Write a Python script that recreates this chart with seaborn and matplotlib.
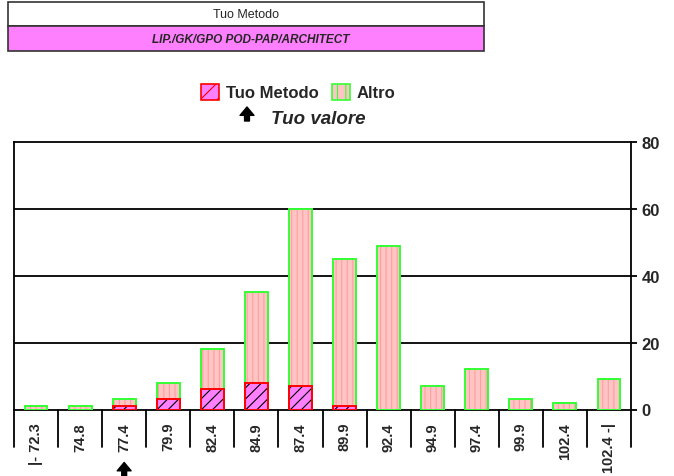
import matplotlib
matplotlib.use("Agg")
import matplotlib.pyplot as plt
import matplotlib.patches as mpatches
import matplotlib.transforms as mtransforms
import seaborn as sns
import pandas as pd
import numpy as np

categories = ["|- 72.3", "74.8", "77.4", "79.9", "82.4", "84.9", "87.4",
              "89.9", "92.4", "94.9", "97.4", "99.9", "102.4", "102.4 -|"]
tuo_metodo = [0, 0, 1, 3, 6, 8, 7, 1, 0, 0, 0, 0, 0, 0]
altro = [1, 1, 2, 5, 12, 27, 53, 44, 49, 7, 12, 3, 2, 9]
y_ticks = [0, 20, 40, 60, 80]
title_top = "Tuo Metodo"
title_bottom = "LIP./GK/GPO POD-PAP/ARCHITECT"
legend_labels = ["Tuo Metodo", "Altro"]
marker_text = "Tuo valore"
your_value_index = 2

sns.set_theme(style="white")
plt.rcParams['font.family'] = ['Liberation Sans', 'DejaVu Sans']

df = pd.DataFrame({"cat": categories, "tuo": tuo_metodo, "altro": altro})
df["total"] = df["tuo"] + df["altro"]

fig = plt.figure(figsize=(6.74, 4.77), dpi=100)
W, H = 674, 477
ax = fig.add_axes([14 / W, 1 - 410.5 / H, (631 - 14) / W, (410.5 - 143) / H])

TUO_FILL = "#FF80FF"
ALTRO_FILL = "#FFC4C4"
STRIPE = "#FF9E9E"
GREEN = "#33FF33"

plt.rcParams['hatch.linewidth'] = 0.8
# Altro (total) with vertical stripes
sns.barplot(data=df, x="cat", y="total", order=categories, color=ALTRO_FILL,
            saturation=1, width=0.52, ax=ax, edgecolor=STRIPE, linewidth=0,
            hatch="|||", zorder=3)
# Green outline around total
sns.barplot(data=df, x="cat", y="total", order=categories, color="none",
            saturation=1, width=0.52, ax=ax, edgecolor=GREEN, linewidth=1.4,
            fill=False, zorder=4)
# Tuo Metodo at bottom
sns.barplot(data=df, x="cat", y="tuo", order=categories, color=TUO_FILL,
            saturation=1, width=0.52, ax=ax, edgecolor="black", linewidth=0,
            hatch="///", zorder=5)
sns.barplot(data=df, x="cat", y="tuo", order=categories, color="none",
            saturation=1, width=0.52, ax=ax, edgecolor="#FF0000", linewidth=1.4,
            fill=False, zorder=6)
for p in ax.patches:
    if p.get_height() == 0:
        p.set_visible(False)

n = len(categories)
ax.set_xlim(-0.5, n - 0.5)
ax.set_ylim(0, 80)
ax.set_xlabel("")
ax.set_ylabel("")
ax.yaxis.tick_right()
ax.set_yticks(y_ticks)
ax.set_yticklabels([str(v) for v in y_ticks], fontsize=12, fontweight="bold")
ax.tick_params(axis="y", which="both", right=True, length=4.5, width=1.3,
               color="black", pad=3, direction="out")
for v in y_ticks[1:-1]:
    ax.axhline(v, color="black", lw=1.3, zorder=1)
for s in ["left", "right", "bottom", "top"]:
    ax.spines[s].set_visible(True)
    ax.spines[s].set_color("black")
    ax.spines[s].set_linewidth(1.3)

ax.set_xticks(range(n))
ax.set_xticklabels(categories, rotation=90, fontsize=10.5, fontweight="bold",
                   va="top")
ax.tick_params(axis="x", length=0, pad=9)

trans = mtransforms.blended_transform_factory(ax.transData, ax.transAxes)
for b in np.arange(-0.5, n, 1.0):
    ax.plot([b, b], [0, -0.142], transform=trans, color="black", lw=1.3,
            clip_on=False, zorder=2)

# arrow below "your value"
ax.annotate("", xy=(your_value_index, -0.198), xytext=(your_value_index, -0.250),
            xycoords=trans, textcoords=trans,
            arrowprops=dict(facecolor="black", edgecolor="black", width=3.5,
                            headwidth=10, headlength=6, shrink=0))

# Title boxes
fig.patches.append(mpatches.Rectangle((8 / W, 1 - 27 / H), (484 - 8) / W, 24 / H,
                                      transform=fig.transFigure, facecolor="white",
                                      edgecolor="#333333", lw=1.2))
fig.patches.append(mpatches.Rectangle((8 / W, 1 - 52 / H), (484 - 8) / W, 25 / H,
                                      transform=fig.transFigure, facecolor="#FF80FF",
                                      edgecolor="#333333", lw=1.2))
fig.text(246 / W, 1 - 15 / H, title_top, ha="center", va="center", fontsize=9)
fig.text(251 / W, 1 - 40 / H, title_bottom, ha="center", va="center",
         fontsize=8.5, fontweight="bold", fontstyle="italic")

# Legend
h1 = mpatches.Patch(facecolor=TUO_FILL, edgecolor="#FF0000", hatch="//", lw=1.2)
h2 = mpatches.Patch(facecolor=ALTRO_FILL, edgecolor=GREEN, hatch="||", lw=1.2)
fig.legend([h1, h2], legend_labels, loc="center", bbox_to_anchor=(298 / W, 1 - 93 / H),
           ncol=2, frameon=False, handlelength=1.1, handleheight=1.1,
           handletextpad=0.4, columnspacing=0.8,
           prop={"weight": "bold", "size": 12})

fig.text(318 / W, 1 - 119 / H, marker_text, ha="center", va="center",
         fontsize=13.5, fontweight="bold", fontstyle="italic")
ax.annotate("", xy=(247 / W, 1 - 108 / H), xytext=(247 / W, 1 - 122 / H),
            xycoords="figure fraction", textcoords="figure fraction",
            arrowprops=dict(facecolor="black", edgecolor="black", width=3.5,
                            headwidth=10, headlength=6, shrink=0))

fig.savefig("out.png", dpi=100)
